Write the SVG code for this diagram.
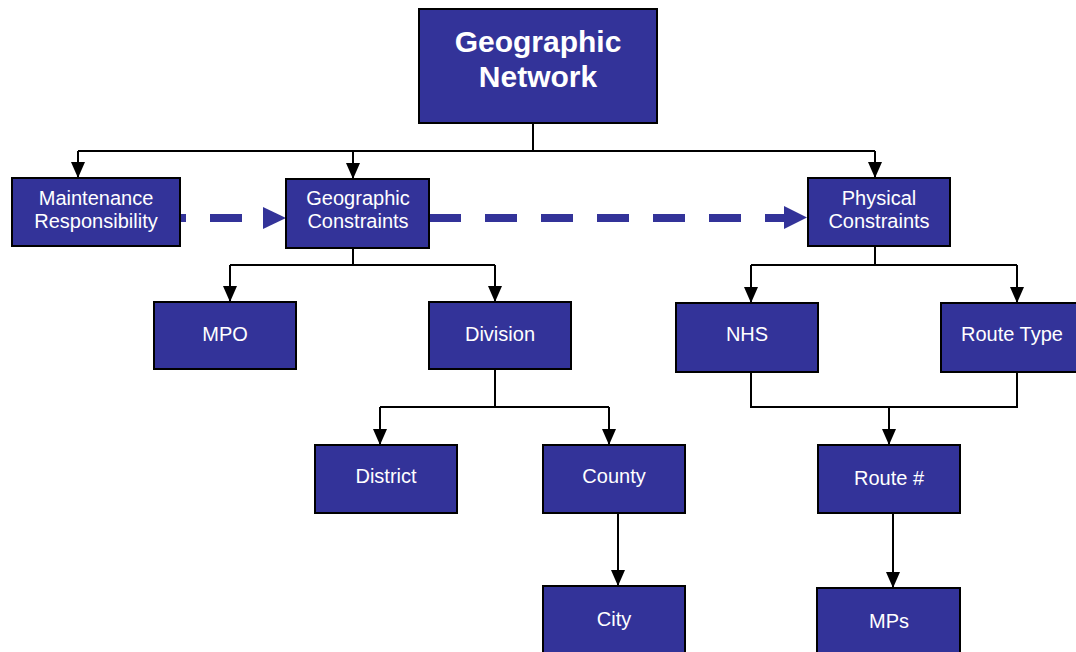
<svg xmlns="http://www.w3.org/2000/svg" width="1076" height="652" viewBox="0 0 1076 652">
<defs>
<style>
.box{fill:#333399;stroke:#000;stroke-width:2}
.lbl{fill:#fff;font-family:"Liberation Sans",Arial,sans-serif;font-size:20px;text-anchor:middle}
.ttl{fill:#fff;font-family:"Liberation Sans",Arial,sans-serif;font-size:30px;font-weight:bold;text-anchor:middle}
.ln{fill:none;stroke:#000;stroke-width:2}
.dash{fill:none;stroke:#333399;stroke-width:8;stroke-dasharray:32 24}
.dhead{fill:#333399}
</style>
<marker id="ah" markerWidth="16" markerHeight="14" refX="16" refY="7" orient="auto" markerUnits="userSpaceOnUse" overflow="visible"><path d="M0,0 L16,7 L0,14 z" fill="#000"/></marker>
</defs>
<rect width="1076" height="652" fill="#fff"/>
<g id="connectors">
<path class="ln" d="M533,123 V151 M78,151 H875"/>
<path class="ln" d="M78,151 V178" marker-end="url(#ah)"/>
<path class="ln" d="M353,151 V179" marker-end="url(#ah)"/>
<path class="ln" d="M875,151 V178" marker-end="url(#ah)"/>
<path class="ln" d="M353,248 V265 M230,265 H495"/>
<path class="ln" d="M230,265 V302" marker-end="url(#ah)"/>
<path class="ln" d="M495,265 V302" marker-end="url(#ah)"/>
<path class="ln" d="M495,369 V407 M380,407 H609"/>
<path class="ln" d="M380,407 V445" marker-end="url(#ah)"/>
<path class="ln" d="M609,407 V445" marker-end="url(#ah)"/>
<path class="ln" d="M618,513 V586" marker-end="url(#ah)"/>
<path class="ln" d="M875,246 V265 M751,265 H1017"/>
<path class="ln" d="M751,265 V303" marker-end="url(#ah)"/>
<path class="ln" d="M1017,265 V303" marker-end="url(#ah)"/>
<path class="ln" d="M751,372 V407 H1017 V372"/>
<path class="ln" d="M889,407 V445" marker-end="url(#ah)"/>
<path class="ln" d="M893,513 V588" marker-end="url(#ah)"/>
<path class="dash" d="M180,218 H263" style="stroke-dashoffset:26"/>
<polygon class="dhead" points="263,207 286,218 263,229"/>
<path class="dash" d="M429,218 H790"/>
<polygon class="dhead" points="784,206 807,217.5 784,229"/>
</g>
<g id="geographic-network">
<rect class="box" x="419" y="9" width="238" height="114"/>
<text class="ttl" x="538" y="52">Geographic</text>
<text class="ttl" x="538" y="87">Network</text>
</g>
<g id="maintenance-responsibility">
<rect class="box" x="12" y="178" width="168" height="68"/>
<text class="lbl" x="96" y="205">Maintenance</text>
<text class="lbl" x="96" y="228">Responsibility</text>
</g>
<g id="geographic-constraints">
<rect class="box" x="286" y="179" width="143" height="69"/>
<text class="lbl" x="358" y="205">Geographic</text>
<text class="lbl" x="358" y="228">Constraints</text>
</g>
<g id="physical-constraints">
<rect class="box" x="808" y="178" width="142" height="68"/>
<text class="lbl" x="879" y="205">Physical</text>
<text class="lbl" x="879" y="228">Constraints</text>
</g>
<g id="mpo">
<rect class="box" x="154" y="302" width="142" height="67"/>
<text class="lbl" x="225" y="341">MPO</text>
</g>
<g id="division">
<rect class="box" x="429" y="302" width="142" height="67"/>
<text class="lbl" x="500" y="341">Division</text>
</g>
<g id="nhs">
<rect class="box" x="676" y="303" width="142" height="69"/>
<text class="lbl" x="747" y="341">NHS</text>
</g>
<g id="route-type">
<rect class="box" x="941" y="303" width="142" height="69"/>
<text class="lbl" x="1012" y="341">Route Type</text>
</g>
<g id="district">
<rect class="box" x="315" y="445" width="142" height="68"/>
<text class="lbl" x="386" y="483">District</text>
</g>
<g id="county">
<rect class="box" x="543" y="445" width="142" height="68"/>
<text class="lbl" x="614" y="483">County</text>
</g>
<g id="route-number">
<rect class="box" x="818" y="445" width="142" height="68"/>
<text class="lbl" x="889" y="485">Route #</text>
</g>
<g id="city">
<rect class="box" x="543" y="586" width="142" height="80"/>
<text class="lbl" x="614" y="626">City</text>
</g>
<g id="mps">
<rect class="box" x="817" y="588" width="143" height="80"/>
<text class="lbl" x="889" y="628">MPs</text>
</g>
</svg>
